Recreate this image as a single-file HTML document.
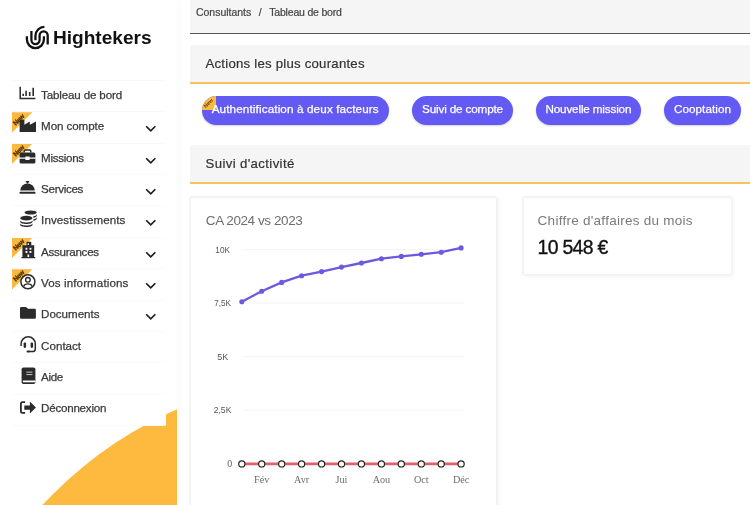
<!DOCTYPE html>
<html lang="fr"><head><meta charset="utf-8"><title>Tableau de bord</title>
<style>
*{box-sizing:border-box;margin:0;padding:0}
html,body{width:750px;height:505px;overflow:hidden;background:#fff;font-family:"Liberation Sans",sans-serif;color:#333}
#side{position:absolute;left:0;top:0;width:177px;height:505px;background:#fff;box-shadow:3px 0 8px rgba(0,0,0,.02);overflow:hidden}
#blob{position:absolute;left:0;top:0}
#logo{position:absolute;left:0;top:0}
#menu{position:absolute;left:12px;top:80px;width:153.6px;background:#fff;list-style:none;border-bottom:1px solid #f9f9f9}
#menu li{position:relative;height:31.36px;border-top:1px solid #f9f9f9;font-size:11.6px;color:#3a3a3a}
#menu li .t{-webkit-text-stroke:0.25px #3a3a3a;position:absolute;left:29.1px;top:6.9px;white-space:nowrap}
#menu li svg.i{position:absolute;left:6.6px;top:5.3px;width:18px;height:17.5px;overflow:visible}
#menu li svg.c{position:absolute;left:133.2px;top:12.9px;width:11.5px;height:7.7px;overflow:visible}
#menu li .n{position:absolute;left:0;top:0px;width:20.3px;height:20.3px;background:#fbb940;clip-path:polygon(0 0,100% 0,0 100%)}
#menu li .n span{position:absolute;left:-0.3px;top:3.3px;font-size:6.6px;font-weight:bold;font-style:normal;color:#4e330a;-webkit-text-stroke:0.3px #4e330a;transform:rotate(-45deg);transform-origin:center;letter-spacing:-0.2px}
#main{position:absolute;left:190px;top:0;width:560px;height:505px}
.bc{-webkit-text-stroke:0.2px #444;position:absolute;left:0;top:0;width:560px;height:34px;background:#f5f5f5;border-bottom:1px solid #565656;font-size:10.5px;color:#444;padding:5.6px 0 0 6px;white-space:nowrap}
.bc span.sl{margin:0 7.6px}
.hd{-webkit-text-stroke:0.2px #333;position:absolute;left:0;width:560px;height:39px;background:#f5f5f5;border-bottom:2px solid #f8c25a;border-radius:3px 0 0 0;font-size:13.2px;color:#333;padding:10.5px 0 0 15.5px;white-space:nowrap}
.btn{-webkit-text-stroke:0.25px #fff;position:absolute;top:96px;height:29px;border-radius:14.5px;background:#625af2;color:#fff;font-size:11.7px;text-align:center;line-height:26.5px;box-shadow:0 1px 2px rgba(0,0,0,.18);white-space:nowrap;overflow:hidden}
.btn i{position:absolute;left:0;top:0;width:14.2px;height:13.8px;background:#fbb940}
.btn i b{position:absolute;left:1.4px;top:-5.8px;font-size:5.2px;color:#5a3b0c;transform:rotate(-45deg);font-style:normal;letter-spacing:0;-webkit-text-stroke:0}
.card{position:absolute;background:#fff;border-radius:4px;border:2px solid #f3f3f3;box-shadow:1px 1px 4px rgba(0,0,0,.04)}
.ct{position:absolute;font-size:13.5px;color:#6e6e6e;white-space:nowrap}
#chart{position:absolute;left:0;top:0}
</style></head><body>
<div id="side">
<svg id="blob" width="177" height="505" viewBox="0 0 177 505"><circle cx="341.7" cy="783" r="408.5" fill="#fdba3f"/></svg>
<svg id="logo" width="177" height="70" viewBox="0 0 177 70">
<g fill="none" stroke="#111" stroke-width="2.3">
<path d="M26.9 36.2V39.6A8.5 8.5 0 0 0 43.9 39.6V36.2"/>
<path d="M31.4 31V40A4.1 4.1 0 0 0 39.6 40V35.4A4.05 4.05 0 0 1 47.7 35.4V44.4"/>
<path d="M44.4 26.9A8.95 8.95 0 0 0 35.45 35.85V40.2"/>
</g>
<text x="52.9" y="44" font-family="Liberation Sans, sans-serif" font-weight="bold" font-size="18.9" fill="#111" textLength="98.8" lengthAdjust="spacingAndGlyphs">Hightekers</text></svg>
<ul id="menu">
<li><svg class="i" viewBox="0 0 18 17.5"><path d="M1.2 0.8 V12.4 H16.4" fill="none" stroke="#2b2b2b" stroke-width="1.5"/><path d="M4.2 10.1V7.7M7.1 10.1V4.7M10.7 10.1V5.9M14.2 10.1V1.7" fill="none" stroke="#2b2b2b" stroke-width="1.6"/></svg><span class="t"><span style="letter-spacing:-0.154px">Tableau de bord</span></span></li>
<li><i class="n"><span>New</span></i><svg class="i" viewBox="0 0 18 17.5"><path d="M0.6 14V1.8H5.4V6.8L10.8 3.5V6.8L17 3.5V14Z" fill="#2b2b2b"/></svg><span class="t"><span style="letter-spacing:-0.089px">Mon compte</span></span><svg class="c" viewBox="0 0 12 8"><path d="M1.2 1.3 L6 6.1 L10.8 1.3" fill="none" stroke="#1d1d1d" stroke-width="1.75"/></svg></li>
<li><i class="n"><span>New</span></i><svg class="i" viewBox="0 0 18 17.5"><path d="M5.2 3.6V2.2Q5.2 1.1 6.3 1.1H10.7Q11.8 1.1 11.8 2.2V3.6" fill="none" stroke="#2b2b2b" stroke-width="1.5"/><path d="M0.6 5.2Q0.6 3.6 2.2 3.6H14.8Q16.4 3.6 16.4 5.2V8.6H10.6V7.6H6.4V8.6H0.6Z" fill="#2b2b2b"/><path d="M0.6 9.8H6.4V10.9H10.6V9.8H16.4V13.2Q16.4 14.6 14.8 14.6H2.2Q0.6 14.6 0.6 13.2Z" fill="#2b2b2b"/></svg><span class="t"><span style="letter-spacing:-0.301px">Missions</span></span><svg class="c" viewBox="0 0 12 8"><path d="M1.2 1.3 L6 6.1 L10.8 1.3" fill="none" stroke="#1d1d1d" stroke-width="1.75"/></svg></li>
<li><svg class="i" viewBox="0 0 18 17.5"><rect x="6.6" y="0.9" width="3.8" height="1.7" rx="0.8" fill="#2b2b2b"/><rect x="7.8" y="2" width="1.4" height="1.6" fill="#2b2b2b"/><path d="M1.3 10.6A7.2 7.2 0 0 1 15.7 10.6Z" fill="#2b2b2b"/><rect x="0.5" y="11.8" width="16" height="1.9" rx="0.6" fill="#2b2b2b"/></svg><span class="t"><span style="letter-spacing:-0.310px">Services</span></span><svg class="c" viewBox="0 0 12 8"><path d="M1.2 1.3 L6 6.1 L10.8 1.3" fill="none" stroke="#1d1d1d" stroke-width="1.75"/></svg></li>
<li><svg class="i" viewBox="0 0 18 17.5"><ellipse cx="11.64" cy="0.5" rx="6.15" ry="2" fill="#2b2b2b"/><path d="M14.3 4.3C16.4 3.9 17.8 3.1 17.8 2V3.5C17.8 4.6 16.4 5.5 14.3 5.8ZM14.3 7.2C16.4 6.8 17.8 6 17.8 4.9V6.4C17.8 7.5 16.4 8.4 14.3 8.7Z" fill="#2b2b2b"/><ellipse cx="7.36" cy="6.1" rx="6.15" ry="2.3" fill="#2b2b2b"/><path d="M1.2 8.2C1.2 11.2 13.5 11.2 13.5 8.2V9.7C13.5 12.7 1.2 12.7 1.2 9.7ZM1.2 11.3C1.2 14.3 13.5 14.3 13.5 11.3V12.8C13.5 15.8 1.2 15.8 1.2 12.8Z" fill="#2b2b2b"/></svg><span class="t"><span style="letter-spacing:0.077px">Investissements</span></span><svg class="c" viewBox="0 0 12 8"><path d="M1.2 1.3 L6 6.1 L10.8 1.3" fill="none" stroke="#1d1d1d" stroke-width="1.75"/></svg></li>
<li><i class="n"><span>New</span></i><svg class="i" viewBox="0 0 18 17.5"><path d="M3.4 2.25H7.4V-0.5Q7.4 -1.25 8.2 -1.25H11.5Q12.3 -1.25 12.3 -0.5V2.25H15.2V14.1H16.3V15.2H2.4V14.1H3.4Z" fill="#2b2b2b"/><g fill="#fff"><circle cx="9.3" cy="1.1" r="0.85"/><rect x="6.5" y="4.8" width="1.9" height="1.9"/><rect x="10.5" y="4.8" width="1.9" height="1.9"/><rect x="6.5" y="8" width="1.9" height="1.9"/><rect x="10.5" y="8" width="1.9" height="1.9"/><rect x="8.5" y="11.5" width="1.7" height="2.6"/></g></svg><span class="t"><span style="letter-spacing:-0.286px">Assurances</span></span><svg class="c" viewBox="0 0 12 8"><path d="M1.2 1.3 L6 6.1 L10.8 1.3" fill="none" stroke="#1d1d1d" stroke-width="1.75"/></svg></li>
<li><i class="n"><span>New</span></i><svg class="i" viewBox="0 0 18 17.5"><circle cx="8.9" cy="7.8" r="7" fill="none" stroke="#2b2b2b" stroke-width="1.5"/><circle cx="8.9" cy="5.8" r="2.3" fill="none" stroke="#2b2b2b" stroke-width="1.4"/><path d="M4.6 12.6Q5.4 9.9 8.9 9.9Q12.4 9.9 13.2 12.6" fill="none" stroke="#2b2b2b" stroke-width="1.4"/></svg><span class="t"><span style="letter-spacing:0.099px">Vos informations</span></span><svg class="c" viewBox="0 0 12 8"><path d="M1.2 1.3 L6 6.1 L10.8 1.3" fill="none" stroke="#1d1d1d" stroke-width="1.75"/></svg></li>
<li><svg class="i" viewBox="0 0 18 17.5"><path d="M1 2.2Q1 0.9 2.3 0.9H7L9 2.7H15.5Q16.9 2.7 16.9 4V11.4Q16.9 12.8 15.5 12.8H2.3Q1 12.8 1 11.4Z" fill="#2b2b2b"/></svg><span class="t"><span style="letter-spacing:-0.030px">Documents</span></span><svg class="c" viewBox="0 0 12 8"><path d="M1.2 1.3 L6 6.1 L10.8 1.3" fill="none" stroke="#1d1d1d" stroke-width="1.75"/></svg></li>
<li><svg class="i" viewBox="0 0 18 17.5"><path d="M2.1 9.1V6.9A7 7 0 0 1 16.3 6.9V11.9Q16.3 14.5 13.5 14.5H10.3" fill="none" stroke="#2b2b2b" stroke-width="1.5"/><rect x="4.6" y="5.5" width="2.5" height="5.4" rx="1.1" fill="#2b2b2b"/><rect x="11.6" y="5.5" width="2.5" height="5.4" rx="1.1" fill="#2b2b2b"/><rect x="7.5" y="13.5" width="3.6" height="2" rx="1" fill="#2b2b2b"/></svg><span class="t"><span style="letter-spacing:0.005px">Contact</span></span></li>
<li><svg class="i" viewBox="0 0 18 17.5"><rect x="2.6" y="-1.5" width="13.8" height="16.6" rx="1.8" fill="#2b2b2b"/><rect x="7.4" y="2.6" width="6" height="1.1" fill="#bbb"/><rect x="7.4" y="5" width="6" height="1.1" fill="#bbb"/><rect x="3.9" y="11.5" width="12.5" height="1.8" fill="#fff"/></svg><span class="t"><span style="letter-spacing:-0.373px">Aide</span></span></li>
<li><svg class="i" viewBox="0 0 18 17.5"><path d="M6.1 2.2H3.5Q1.9 2.2 1.9 3.8V11.2Q1.9 12.8 3.5 12.8H6.1" fill="none" stroke="#2b2b2b" stroke-width="1.8"/><path d="M5.3 5.4H10.9V1.4L16.9 7.5L10.9 13.6V9.8H5.3Z" fill="#2b2b2b"/></svg><span class="t"><span style="letter-spacing:-0.239px">Déconnexion</span></span></li>
</ul>
</div>
<div id="main">
<div class="bc"><span style="letter-spacing:-0.025px">Consultants</span><span class="sl">/</span><span style="letter-spacing:-0.201px">Tableau de bord</span></div>
<div class="hd" style="top:45px"><span style="letter-spacing:0.232px">Actions les plus courantes</span></div>
<div class="btn" style="left:12px;width:186.5px"><i><b>New</b></i><span style="position:relative"><span style="letter-spacing:0.127px">Authentification à deux facteurs</span></span></div>
<div class="btn" style="left:222px;width:101px"><span style="letter-spacing:-0.154px">Suivi de compte</span></div>
<div class="btn" style="left:345.6px;width:105.6px"><span style="letter-spacing:-0.156px">Nouvelle mission</span></div>
<div class="btn" style="left:474px;width:77px"><span style="letter-spacing:0.050px">Cooptation</span></div>
<div class="hd" style="top:145px"><span style="letter-spacing:0.376px">Suivi d'activité</span></div>
<div class="card" style="left:-1px;top:196px;width:309px;height:322px"></div>
<div class="card" style="left:332px;top:196px;width:211px;height:80px"></div>
<div class="ct" style="left:15.8px;top:212.8px"><span style="letter-spacing:-0.416px">CA 2024 vs 2023</span></div>
<div class="ct" style="left:347.6px;top:212.8px;color:#7a7a7a"><span style="letter-spacing:0.264px">Chiffre d'affaires du mois</span></div>
<div class="ct" style="left:347.6px;top:236px;font-size:19.4px;color:#111;-webkit-text-stroke:0.35px #111"><span style="letter-spacing:-0.698px">10 548 €</span></div>
</div>
<svg id="chart" width="750" height="505" viewBox="0 0 750 505">
<line x1="243" x2="464" y1="249.6" y2="249.6" stroke="#f3f3f3" stroke-width="1"/><line x1="243" x2="464" y1="303.1" y2="303.1" stroke="#f3f3f3" stroke-width="1"/><line x1="243" x2="464" y1="356.7" y2="356.7" stroke="#f3f3f3" stroke-width="1"/><line x1="243" x2="464" y1="410.2" y2="410.2" stroke="#f3f3f3" stroke-width="1"/>
<polyline points="241.8,301.8 261.7,291.2 281.7,282.4 301.6,275.7 321.6,271.6 341.5,267.1 361.4,263.0 381.4,258.7 401.3,256.4 421.3,254.3 441.2,252.2 461.1,247.9" fill="none" stroke="#6a5ae0" stroke-width="2.3" stroke-linejoin="round"/>
<circle cx="241.8" cy="301.8" r="2.55" fill="#6a5ae0"/><circle cx="261.7" cy="291.2" r="2.55" fill="#6a5ae0"/><circle cx="281.7" cy="282.4" r="2.55" fill="#6a5ae0"/><circle cx="301.6" cy="275.7" r="2.55" fill="#6a5ae0"/><circle cx="321.6" cy="271.6" r="2.55" fill="#6a5ae0"/><circle cx="341.5" cy="267.1" r="2.55" fill="#6a5ae0"/><circle cx="361.4" cy="263.0" r="2.55" fill="#6a5ae0"/><circle cx="381.4" cy="258.7" r="2.55" fill="#6a5ae0"/><circle cx="401.3" cy="256.4" r="2.55" fill="#6a5ae0"/><circle cx="421.3" cy="254.3" r="2.55" fill="#6a5ae0"/><circle cx="441.2" cy="252.2" r="2.55" fill="#6a5ae0"/><circle cx="461.1" cy="247.9" r="2.55" fill="#6a5ae0"/>
<line x1="241.8" x2="461.14" y1="463.9" y2="463.9" stroke="#e55f6b" stroke-width="2.7"/>
<circle cx="241.8" cy="463.9" r="3.1" fill="#fff" stroke="#222" stroke-width="1.15"/><circle cx="261.7" cy="463.9" r="3.1" fill="#fff" stroke="#222" stroke-width="1.15"/><circle cx="281.7" cy="463.9" r="3.1" fill="#fff" stroke="#222" stroke-width="1.15"/><circle cx="301.6" cy="463.9" r="3.1" fill="#fff" stroke="#222" stroke-width="1.15"/><circle cx="321.6" cy="463.9" r="3.1" fill="#fff" stroke="#222" stroke-width="1.15"/><circle cx="341.5" cy="463.9" r="3.1" fill="#fff" stroke="#222" stroke-width="1.15"/><circle cx="361.4" cy="463.9" r="3.1" fill="#fff" stroke="#222" stroke-width="1.15"/><circle cx="381.4" cy="463.9" r="3.1" fill="#fff" stroke="#222" stroke-width="1.15"/><circle cx="401.3" cy="463.9" r="3.1" fill="#fff" stroke="#222" stroke-width="1.15"/><circle cx="421.3" cy="463.9" r="3.1" fill="#fff" stroke="#222" stroke-width="1.15"/><circle cx="441.2" cy="463.9" r="3.1" fill="#fff" stroke="#222" stroke-width="1.15"/><circle cx="461.1" cy="463.9" r="3.1" fill="#fff" stroke="#222" stroke-width="1.15"/>
<g font-family="Liberation Sans, sans-serif" font-size="9.3" fill="#555"><text x="215.3" y="252.6" textLength="14.7" lengthAdjust="spacingAndGlyphs">10K</text><text x="214.2" y="306.2" textLength="16.8" lengthAdjust="spacingAndGlyphs">7,5K</text><text x="217.2" y="359.8" textLength="11.0" lengthAdjust="spacingAndGlyphs">5K</text><text x="213.7" y="413.0" textLength="17.7" lengthAdjust="spacingAndGlyphs">2,5K</text></g>
<text x="232.3" y="467.3" font-family="Liberation Serif, serif" font-size="10" fill="#666" text-anchor="end">0</text>
<g font-family="Liberation Serif, serif" font-size="10.2" fill="#6c6c6c" text-anchor="middle"><text x="261.7" y="482.6">Fév</text><text x="301.6" y="482.6">Avr</text><text x="341.5" y="482.6">Jui</text><text x="381.4" y="482.6">Aou</text><text x="421.3" y="482.6">Oct</text><text x="461.1" y="482.6">Déc</text></g>
</svg>
</body></html>
